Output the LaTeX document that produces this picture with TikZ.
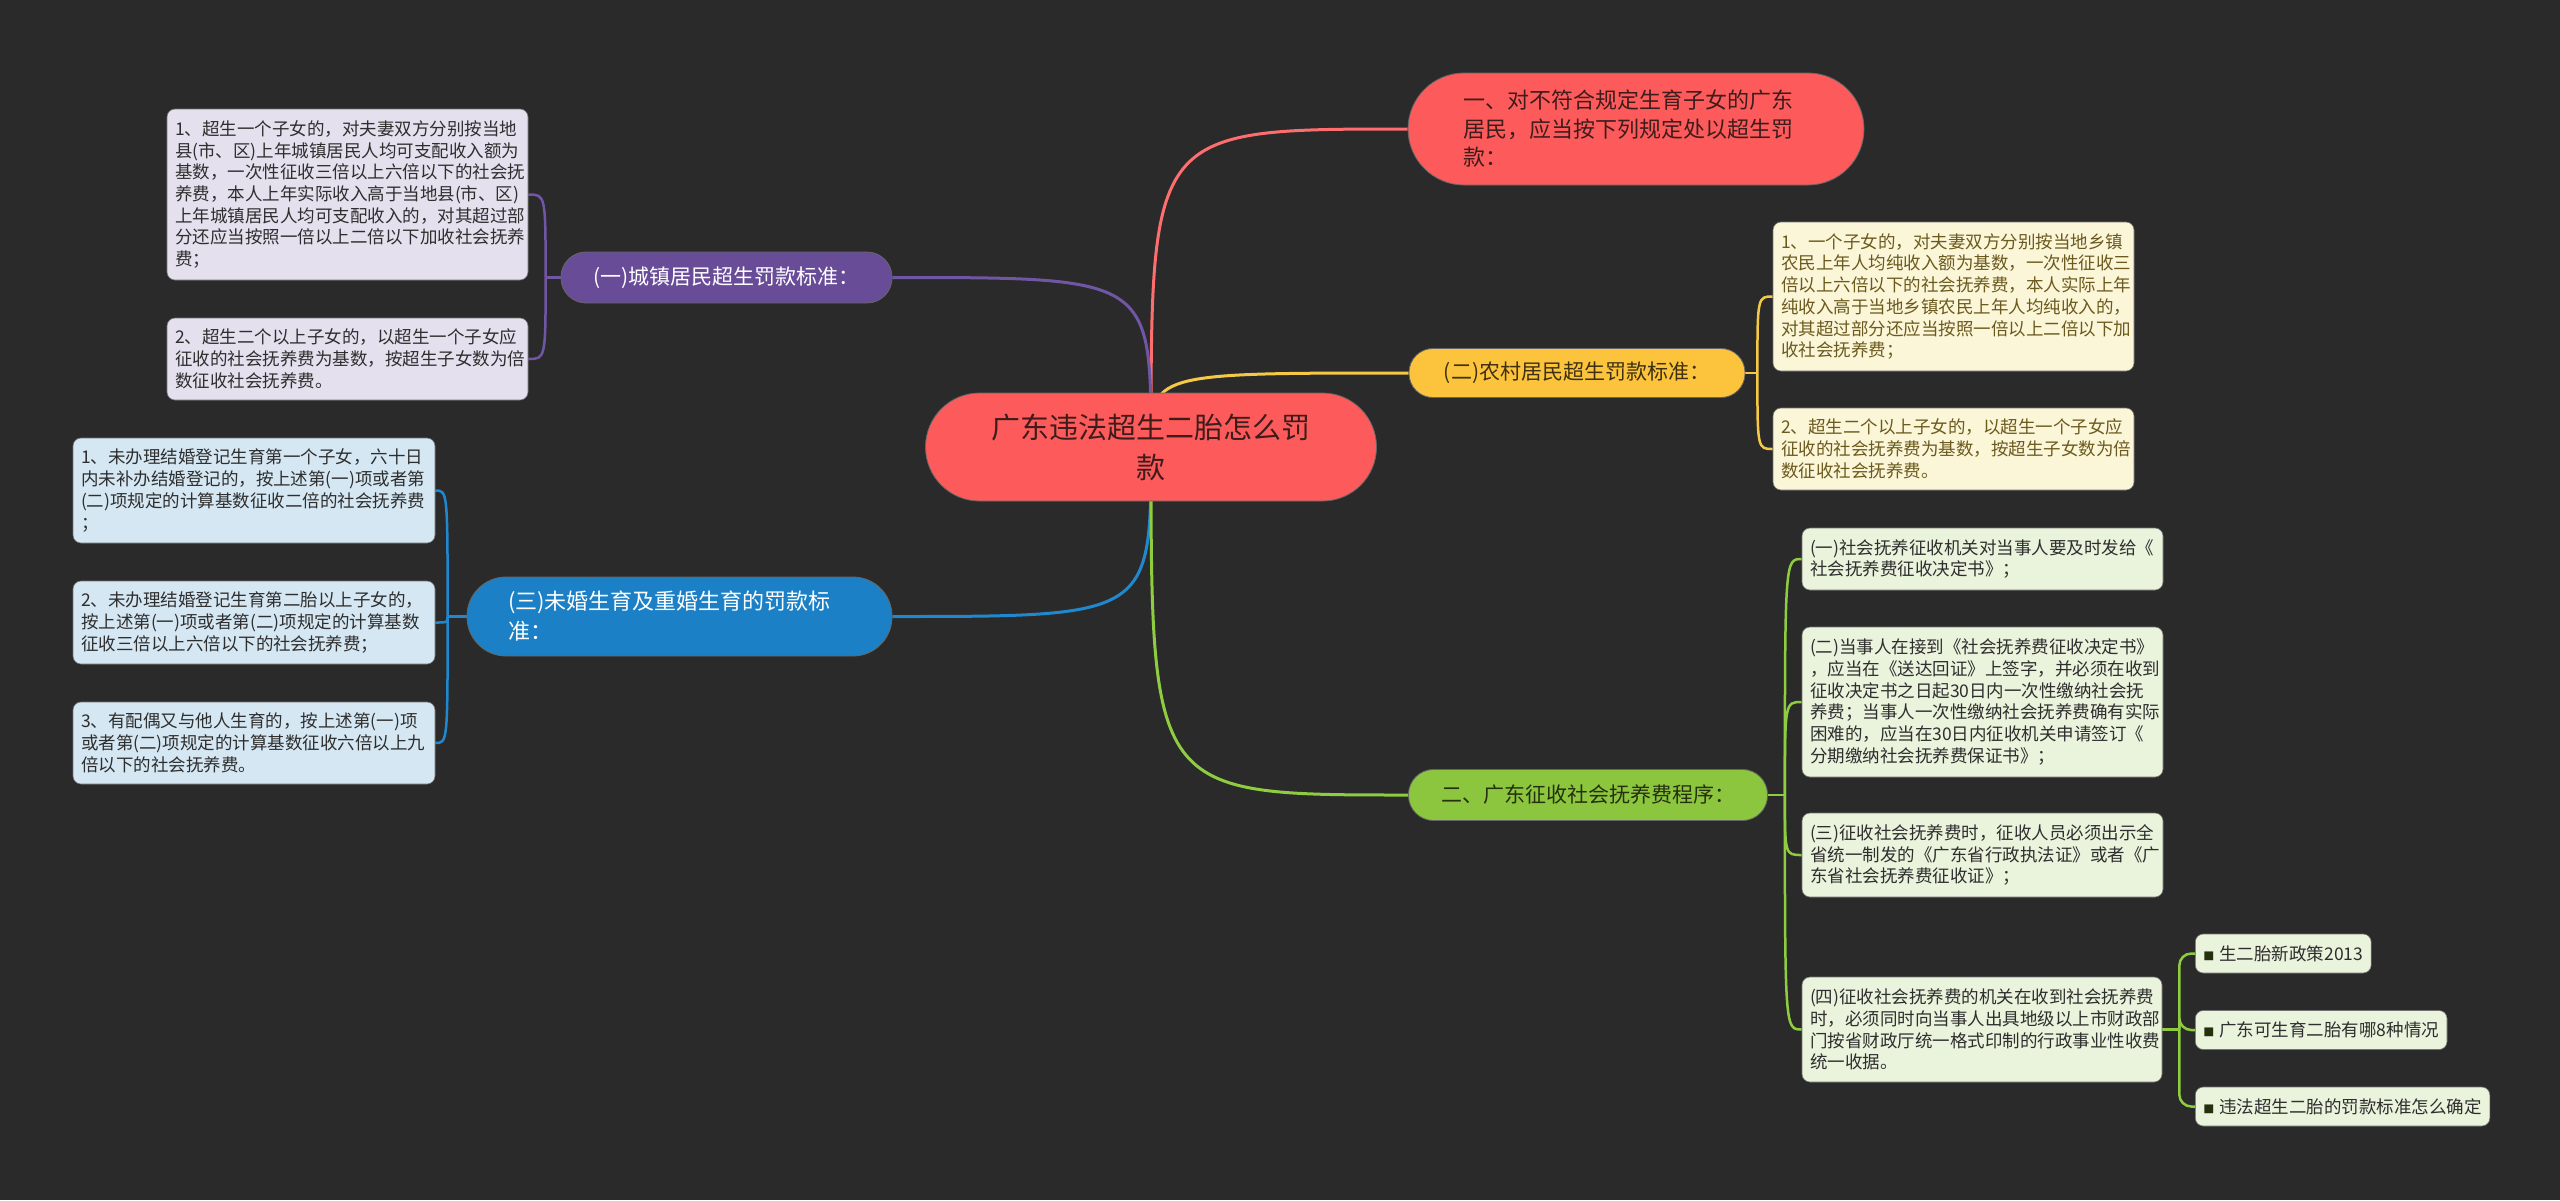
\documentclass[tikz,border=0pt]{standalone}
\usepackage{fontspec}
\setmainfont{Noto Sans CJK SC}
\definecolor{bg}{HTML}{2A2A2A}
\definecolor{cred}{HTML}{FD5B5B}
\definecolor{credtxt}{HTML}{3F1C1C}
\definecolor{credline}{HTML}{FF6E6E}
\definecolor{cpur}{HTML}{694C98}
\definecolor{cpurline}{HTML}{7256A6}
\definecolor{cpurbox}{HTML}{E5E0EE}
\definecolor{cyel}{HTML}{FCC43C}
\definecolor{cyeltxt}{HTML}{3E3010}
\definecolor{cyelline}{HTML}{F5C946}
\definecolor{cyelbox}{HTML}{FCF6D9}
\definecolor{cyelboxtxt}{HTML}{6B5A1E}
\definecolor{cblu}{HTML}{1B80C6}
\definecolor{cbluline}{HTML}{2088CF}
\definecolor{cblubox}{HTML}{D5E7F3}
\definecolor{cgrn}{HTML}{8CC63E}
\definecolor{cgrntxt}{HTML}{25300F}
\definecolor{cgrnline}{HTML}{8ECC40}
\definecolor{cgrnbox}{HTML}{EAF3DC}
\definecolor{boxtxt}{HTML}{2E2E2E}
\pgfdeclarelayer{back}
\pgfsetlayers{back,main}
\tikzset{
  pill/.style={draw=black!60, line width=0.8pt, inner sep=0pt, align=left},
  detail/.style={rounded corners=8pt, draw=black!55, line width=0.6pt, inner sep=0pt, align=left, anchor=center,
     font=\fontsize{17.5}{21.7}\selectfont},
  leaf/.style={rounded corners=8pt, draw=black!55, line width=0.6pt, inner xsep=8pt, inner ysep=0pt, anchor=west,
     fill=cgrnbox, text=boxtxt, minimum height=39, font=\fontsize{17.5}{21.7}\selectfont},
  mainline/.style={line width=3pt},
  brline/.style={line width=2.5pt},
}
\newcommand{\leafbullet}{{\fontsize{11}{11}\selectfont\textcolor{cgrntxt}{■}}\hspace{5pt}}
\begin{document}
\begin{tikzpicture}[x=1pt,y=-1pt]
\begin{pgfonlayer}{back}
\fill[bg] (0,0) rectangle (2560,1200);
\end{pgfonlayer}
\useasboundingbox (0,0) rectangle (2560,1200);

% ---------- nodes ----------
\node[pill, fill=cred, text=credtxt, minimum width=451, minimum height=108, rounded corners=54pt, align=center,
  font=\fontsize{29}{40}\selectfont] (c) at (1151,447) {广东违法超生二胎怎么罚\\款};

\node[pill, fill=cred, text=credtxt, minimum width=456, minimum height=112, rounded corners=56pt,
  text width=346, font=\fontsize{22}{28.5}\selectfont] (n1) at (1636,129)
  {一、对不符合规定生育子女的广东\\居民，应当按下列规定处以超生罚\\款：};

\node[pill, fill=cpur, text=white, minimum width=331, minimum height=51, rounded corners=25pt,
  font=\fontsize{21}{26}\selectfont] (p) at (726.5,277.5) {(一)城镇居民超生罚款标准：};

\node[pill, fill=cyel, text=cyeltxt, minimum width=336, minimum height=49, rounded corners=24pt,
  font=\fontsize{21}{26}\selectfont] (y) at (1577,373) {(二)农村居民超生罚款标准：};

\node[pill, fill=cblu, text=white, minimum width=425, minimum height=79, rounded corners=39pt,
  text width=343, font=\fontsize{22}{30}\selectfont] (b) at (679.5,616.5)
  {(三)未婚生育及重婚生育的罚款标\\准：};

\node[pill, fill=cgrn, text=cgrntxt, minimum width=359, minimum height=51, rounded corners=25pt,
  font=\fontsize{21}{26}\selectfont] (g) at (1588,795) {二、广东征收社会抚养费程序：};

% purple details
\node[detail, fill=cpurbox, text=boxtxt, minimum width=361, minimum height=171, text width=345] (p1) at (347.5,194.5)
{1、超生一个子女的，对夫妻双方分别按当地\\县(市、区)上年城镇居民人均可支配收入额为\\基数，一次性征收三倍以上六倍以下的社会抚\\养费，本人上年实际收入高于当地县(市、区)\\上年城镇居民人均可支配收入的，对其超过部\\分还应当按照一倍以上二倍以下加收社会抚养\\费；};
\node[detail, fill=cpurbox, text=boxtxt, minimum width=361, minimum height=82, text width=345] (p2) at (347.5,359)
{2、超生二个以上子女的，以超生一个子女应\\征收的社会抚养费为基数，按超生子女数为倍\\数征收社会抚养费。};

% blue details
\node[detail, fill=cblubox, text=boxtxt, minimum width=362, minimum height=105, text width=346] (b1) at (254,490.5)
{1、未办理结婚登记生育第一个子女，六十日\\内未补办结婚登记的，按上述第(一)项或者第\\(二)项规定的计算基数征收二倍的社会抚养费\\；};
\node[detail, fill=cblubox, text=boxtxt, minimum width=362, minimum height=83, text width=346] (b2) at (254,622.5)
{2、未办理结婚登记生育第二胎以上子女的，\\按上述第(一)项或者第(二)项规定的计算基数\\征收三倍以上六倍以下的社会抚养费；};
\node[detail, fill=cblubox, text=boxtxt, minimum width=362, minimum height=82, text width=346] (b3) at (254,743)
{3、有配偶又与他人生育的，按上述第(一)项\\或者第(二)项规定的计算基数征收六倍以上九\\倍以下的社会抚养费。};

% yellow details
\node[detail, fill=cyelbox, text=cyelboxtxt, minimum width=361, minimum height=149, text width=345] (y1) at (1953.5,296.5)
{1、一个子女的，对夫妻双方分别按当地乡镇\\农民上年人均纯收入额为基数，一次性征收三\\倍以上六倍以下的社会抚养费，本人实际上年\\纯收入高于当地乡镇农民上年人均纯收入的，\\对其超过部分还应当按照一倍以上二倍以下加\\收社会抚养费；};
\node[detail, fill=cyelbox, text=cyelboxtxt, minimum width=361, minimum height=82, text width=345] (y2) at (1953.5,449)
{2、超生二个以上子女的，以超生一个子女应\\征收的社会抚养费为基数，按超生子女数为倍\\数征收社会抚养费。};

% green details
\node[detail, fill=cgrnbox, text=boxtxt, minimum width=361, minimum height=62, text width=345] (g1) at (1982.5,559)
{(一)社会抚养征收机关对当事人要及时发给《\\社会抚养费征收决定书》；};
\node[detail, fill=cgrnbox, text=boxtxt, minimum width=361, minimum height=150, text width=345] (g2) at (1982.5,702)
{(二)当事人在接到《社会抚养费征收决定书》\\，应当在《送达回证》上签字，并必须在收到\\征收决定书之日起30日内一次性缴纳社会抚\\养费；当事人一次性缴纳社会抚养费确有实际\\困难的，应当在30日内征收机关申请签订《\\分期缴纳社会抚养费保证书》；};
\node[detail, fill=cgrnbox, text=boxtxt, minimum width=361, minimum height=84, text width=345] (g3) at (1982.5,855)
{(三)征收社会抚养费时，征收人员必须出示全\\省统一制发的《广东省行政执法证》或者《广\\东省社会抚养费征收证》；};
\node[detail, fill=cgrnbox, text=boxtxt, minimum width=360, minimum height=105, text width=344] (g4) at (1982,1029.5)
{(四)征收社会抚养费的机关在收到社会抚养费\\时，必须同时向当事人出具地级以上市财政部\\门按省财政厅统一格式印制的行政事业性收费\\统一收据。};

% leaves
\node[leaf] (l1) at (2195,953.5) {\leafbullet 生二胎新政策2013};
\node[leaf] (l2) at (2195,1030) {\leafbullet 广东可生育二胎有哪8种情况};
\node[leaf] (l3) at (2195,1106.5) {\leafbullet 违法超生二胎的罚款标准怎么确定};

% ---------- connectors ----------
\begin{pgfonlayer}{back}
\draw[mainline, credline] (c.center) .. controls (c.center |- n1.west) .. (n1.west);
\draw[mainline, cpurline] (c.center) .. controls (c.center |- p.east) .. (p.east);
\draw[mainline, cyelline] (c.center) .. controls (c.center |- y.west) .. (y.west);
\draw[mainline, cbluline] (c.center) .. controls (c.center |- b.east) .. (b.east);
\draw[mainline, cgrnline] (c.center) .. controls (c.center |- g.west) .. (g.west);

% purple bracket
\coordinate (pj) at ([xshift=-15pt]p.west);
\draw[brline, cpurline] (p.west) -- (pj);
\foreach \k in {p1,p2} \draw[brline, cpurline] (pj) .. controls (pj |- \k.east) .. (\k.east);
% blue bracket
\coordinate (bj) at ([xshift=-19pt]b.west);
\draw[brline, cbluline] (b.west) -- (bj);
\foreach \k in {b1,b2,b3} \draw[brline, cbluline] (bj) .. controls (bj |- \k.east) .. (\k.east);
% yellow bracket
\coordinate (yj) at ([xshift=12pt]y.east);
\draw[brline, cyelline] (y.east) -- (yj);
\foreach \k in {y1,y2} \draw[brline, cyelline] (yj) .. controls (yj |- \k.west) .. (\k.west);
% green bracket
\coordinate (gj) at ([xshift=17pt]g.east);
\draw[brline, cgrnline] (g.east) -- (gj);
\foreach \k in {g1,g2,g3,g4} \draw[brline, cgrnline] (gj) .. controls (gj |- \k.west) .. (\k.west);
% leaves bracket
\coordinate (lj) at ([xshift=17pt]g4.east);
\draw[brline, cgrnline] (g4.east) -- (lj);
\foreach \k in {l1,l2,l3} \draw[brline, cgrnline, rounded corners=12pt] (lj) |- (\k.west);
\end{pgfonlayer}
\end{tikzpicture}
\end{document}
